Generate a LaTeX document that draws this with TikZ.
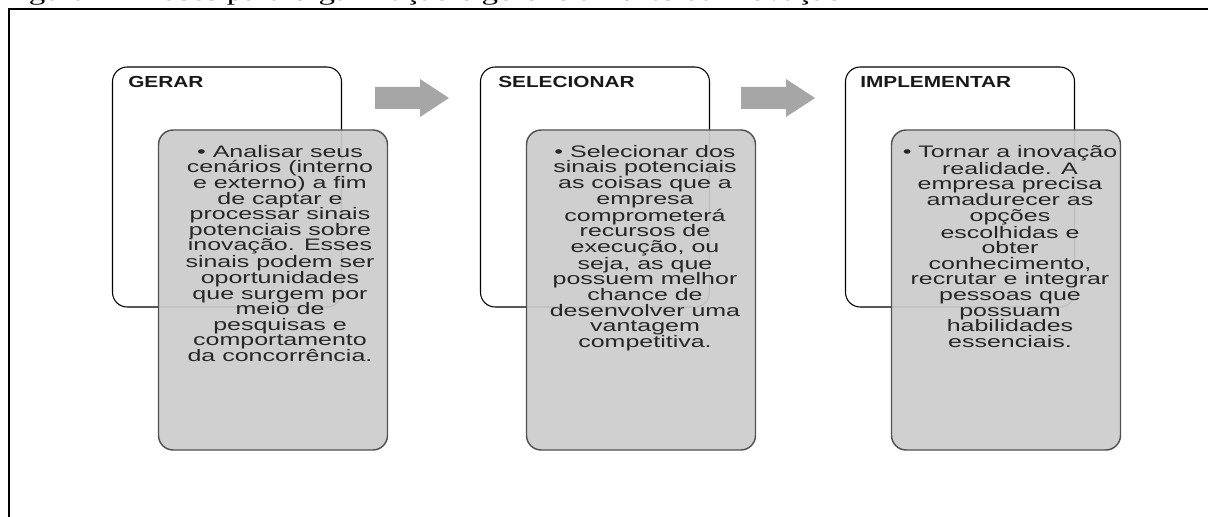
\documentclass[tikz,border=0pt]{standalone}
\usepackage{fontspec}
\setmainfont{Liberation Sans}
\newfontfamily\boxfont[FakeStretch=1.5]{Liberation Sans}
\newfontfamily\titlefont[FakeStretch=1.3]{Liberation Sans}
\newfontfamily\capfont[FakeStretch=1.5]{Liberation Serif}

\tikzset{
	backbox/.style={draw=black, line width=0.8pt, rounded corners=11pt, fill=white,
		minimum width=171.75pt, minimum height=180pt, inner sep=0pt},
	frontbox/.style={draw=black!68, line width=1.1pt, rounded corners=11pt, fill=black!20,
		fill opacity=0.93, minimum width=171.75pt, minimum height=240pt, inner sep=0pt},
	titletext/.style={anchor=base west, inner sep=0pt, text=black!90,
		font=\titlefont\bfseries\fontsize{12}{14}\selectfont},
	bodytext/.style={anchor=north, inner sep=0pt, align=center, text=black!85,
		font=\boxfont\fontsize{12.5}{11.7}\selectfont},
	steparrow/.style={fill=black!35}
}

\begin{document}
\begin{tikzpicture}[x=0.75pt,y=-0.75pt]
	\useasboundingbox (0,0) rectangle (1208,517);
	
	% caption, cut at the top
	\begin{scope}
		\clip (0,0) rectangle (1208,517);
		\node[anchor=base west, inner sep=0pt, font=\capfont\fontsize{16.5}{18}\selectfont] (caption) at (1,1)
			{Figura 1 – Fases para organização e gerenciamento da inovação};
	\end{scope}
	\draw[line width=1.5pt] (9,517) -- (9,9) -- (1208,9);
	
	% gerar
	\node[backbox] (gerar) at (227,187) {};
	\node[titletext] (gerartitle) at (128,88) {GERAR};
	\node[frontbox] (gerartext) at (273,290) {};
	\node[bodytext] (gerarbody) at (280,145) {• Analisar seus\\cenários (interno\\e externo) a fim\\de captar e\\processar sinais\\potenciais sobre\\inovação. Esses\\sinais podem ser\\oportunidades\\que surgem por\\meio de\\pesquisas e\\comportamento\\da concorrência.};
	
	% selecionar
	\node[backbox] (selecionar) at (595,187) {};
	\node[titletext] (selecionartitle) at (498,88) {SELECIONAR};
	\node[frontbox] (selecionartext) at (641,290) {};
	\node[bodytext] (selecionarbody) at (645,145) {• Selecionar dos\\sinais potenciais\\as coisas que a\\empresa\\comprometerá\\recursos de\\execução, ou\\seja, as que\\possuem melhor\\chance de\\desenvolver uma\\vantagem\\competitiva.};
	
	% implementar
	\node[backbox] (implementar) at (960,187) {};
	\node[titletext] (implementartitle) at (860,88) {IMPLEMENTAR};
	\node[frontbox] (implementartext) at (1006,290) {};
	\node[bodytext] (implementarbody) at (1010,145) {• Tornar a inovação\\realidade. A\\empresa precisa\\amadurecer as\\opções\\escolhidas e\\obter\\conhecimento,\\recrutar e integrar\\pessoas que\\possuam\\habilidades\\essenciais.};
	
	% arrows
	\fill[steparrow] (375,87) -- (420,87) -- (420,79) -- (449,98) -- (420,117) -- (420,109) -- (375,109) -- cycle;
	\fill[steparrow] (741,87) -- (786,87) -- (786,79) -- (815,98) -- (786,117) -- (786,109) -- (741,109) -- cycle;
	
\end{tikzpicture}
\end{document}
